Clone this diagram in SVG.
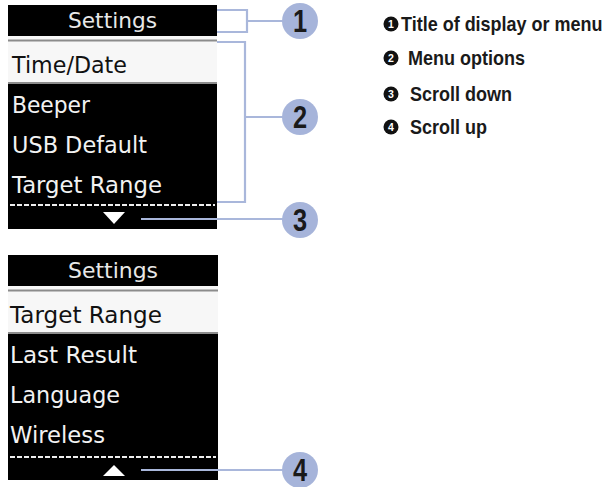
<svg xmlns="http://www.w3.org/2000/svg" width="609" height="487" viewBox="0 0 609 487">
<style>
.scr{fill:#000}
.hl{fill:#f7f7f7}
.rule{stroke:#8c8c8c;stroke-width:2}
.lcd{font-family:"DejaVu Sans","Liberation Sans",sans-serif;font-size:23px;fill:#f2f2f2}
.lcdd{font-family:"DejaVu Sans","Liberation Sans",sans-serif;font-size:23px;fill:#111}
.ttl{font-family:"DejaVu Sans","Liberation Sans",sans-serif;font-size:21.5px;fill:#e8e8e8}
.dash{stroke:#eee;stroke-width:2;stroke-dasharray:5 2}
.tri{fill:#fff}
.con{stroke:#a9b7db;stroke-width:2.2;fill:none}
.cc{fill:#a6b4da}
.cn{font-family:"Liberation Sans",sans-serif;font-weight:bold;font-size:31px;fill:#1a1a1a;text-anchor:middle}
.lc{fill:#111}
.ln{font-family:"Liberation Sans",sans-serif;font-weight:bold;font-size:10.5px;fill:#fff;text-anchor:middle}
.lt{font-family:"Liberation Sans",sans-serif;font-weight:bold;font-size:20px;fill:#1a1a1a}
</style>

<g id="screen-top">
  <rect class="scr" x="8" y="5" width="209" height="224"/>
  <rect class="hl" x="8" y="36" width="209" height="47"/>
  <line class="rule" x1="8" y1="40.5" x2="217" y2="40.5"/>
  <line class="rule" x1="8" y1="83" x2="217" y2="83"/>
  <text class="ttl" x="68" y="28" textLength="89" lengthAdjust="spacingAndGlyphs">Settings</text>
  <text class="lcdd" x="12" y="73" textLength="115" lengthAdjust="spacingAndGlyphs">Time/Date</text>
  <text class="lcd" x="12" y="113" textLength="78" lengthAdjust="spacingAndGlyphs">Beeper</text>
  <text class="lcd" x="12" y="153" textLength="135" lengthAdjust="spacingAndGlyphs">USB Default</text>
  <text class="lcd" x="12" y="193" textLength="150" lengthAdjust="spacingAndGlyphs">Target Range</text>
  <line class="dash" x1="10" y1="205" x2="215" y2="205"/>
  <polygon class="tri" points="103,212 125,212 114,224"/>
</g>

<g id="screen-bottom">
  <rect class="scr" x="8" y="255" width="210" height="225"/>
  <rect class="hl" x="8" y="286" width="210" height="47"/>
  <line class="rule" x1="8" y1="290.5" x2="218" y2="290.5"/>
  <line class="rule" x1="8" y1="333" x2="218" y2="333"/>
  <text class="ttl" x="68" y="278" textLength="90" lengthAdjust="spacingAndGlyphs">Settings</text>
  <text class="lcdd" x="10" y="323" textLength="152" lengthAdjust="spacingAndGlyphs">Target Range</text>
  <text class="lcd" x="10" y="363" textLength="127" lengthAdjust="spacingAndGlyphs">Last Result</text>
  <text class="lcd" x="10" y="403" textLength="110" lengthAdjust="spacingAndGlyphs">Language</text>
  <text class="lcd" x="10" y="443" textLength="95" lengthAdjust="spacingAndGlyphs">Wireless</text>
  <line class="dash" x1="10" y1="457" x2="216" y2="457"/>
  <polygon class="tri" points="103,476 125,476 114,465"/>
</g>

<g id="connectors">
  <polyline class="con" points="217,10 247,10 247,32 217,32"/>
  <line class="con" x1="247" y1="21" x2="283" y2="21"/>
  <polyline class="con" points="217,42 245,42 245,202 217,202"/>
  <line class="con" x1="245" y1="117" x2="283" y2="117"/>
  <line class="con" x1="141" y1="219" x2="283" y2="219"/>
  <line class="con" x1="141" y1="470" x2="283" y2="470"/>
</g>

<g id="callout-1">
  <circle class="cc" cx="300" cy="21" r="18"/>
  <text class="cn" transform="translate(300,32) scale(0.82,1)">1</text>
</g>
<g id="callout-2">
  <circle class="cc" cx="300" cy="117" r="18"/>
  <text class="cn" transform="translate(300,128) scale(0.82,1)">2</text>
</g>
<g id="callout-3">
  <circle class="cc" cx="300" cy="220" r="18"/>
  <text class="cn" transform="translate(300,231) scale(0.82,1)">3</text>
</g>
<g id="callout-4">
  <circle class="cc" cx="300" cy="470" r="18"/>
  <text class="cn" transform="translate(300,481) scale(0.82,1)">4</text>
</g>

<g id="legend">
  <g id="legend-1">
    <circle class="lc" cx="391" cy="24" r="7.5"/>
    <text class="ln" x="391" y="27.8">1</text>
    <text class="lt" transform="translate(401,31) scale(0.9,1)">Title of display or menu</text>
  </g>
  <g id="legend-2">
    <circle class="lc" cx="391" cy="58" r="7.5"/>
    <text class="ln" x="391" y="61.8">2</text>
    <text class="lt" transform="translate(408,65) scale(0.9,1)">Menu options</text>
  </g>
  <g id="legend-3">
    <circle class="lc" cx="391" cy="94" r="7.5"/>
    <text class="ln" x="391" y="97.8">3</text>
    <text class="lt" transform="translate(410,101) scale(0.9,1)">Scroll down</text>
  </g>
  <g id="legend-4">
    <circle class="lc" cx="391" cy="127" r="7.5"/>
    <text class="ln" x="391" y="130.8">4</text>
    <text class="lt" transform="translate(410,134) scale(0.9,1)">Scroll up</text>
  </g>
</g>
</svg>
